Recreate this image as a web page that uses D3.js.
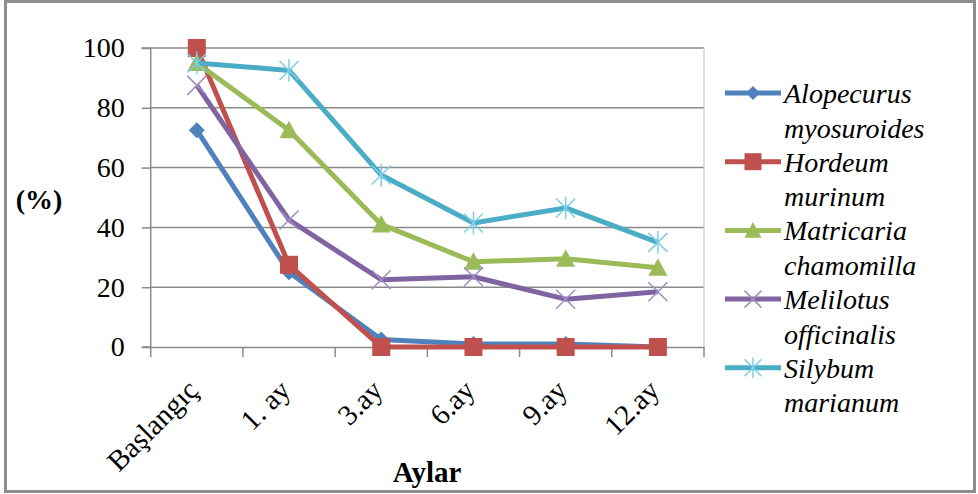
<!DOCTYPE html>
<html>
<head>
<meta charset="utf-8">
<script src="https://cdn.jsdelivr.net/npm/d3@7"></script>
<style>
  html, body { margin: 0; padding: 0; background: #fff; }
  svg { display: block; }
</style>
</head>
<body>
<svg id="chart" width="978" height="494"></svg>
<script>
// Sampling times (months after start)
const categories = ["Başlangıç", "1. ay", "3.ay", "6.ay", "9.ay", "12.ay"];

// Percentages per species
const alopecurus = [72.5, 25, 2.5, 1, 1, 0];
const hordeum    = [100, 27.5, 0, 0, 0, 0];
const matricaria = [95, 72.5, 41, 28.5, 29.5, 26.5];
const melilotus  = [87.5, 42.5, 22.5, 23.5, 16, 18.5];
const silybum    = [95, 92.5, 57.5, 41.5, 46.5, 35];

const yTicks = [0, 20, 40, 60, 80, 100];

const seriesNames = [
  ["Alopecurus", "myosuroides"],
  ["Hordeum", "murinum"],
  ["Matricaria", "chamomilla"],
  ["Melilotus", "officinalis"],
  ["Silybum", "marianum"]
];
const seriesValues = [alopecurus, hordeum, matricaria, melilotus, silybum];
const lineColors   = ["#4f81bd", "#c0504d", "#9bbb59", "#8064a2", "#4bacc6"];
const markerColors = ["#4f81bd", "#c0504d", "#9bbb59", "#a08cc4", "#7ccfe4"];
const markerTypes  = ["diamond", "square", "triangle", "cross", "star"];

const SERIF = '"Liberation Serif", "Times New Roman", serif';

const svg = d3.select("#chart");

// Outer frame
svg.append("rect")
  .attr("x", 5.5).attr("y", 1.5).attr("width", 969).attr("height", 490)
  .attr("fill", "none").attr("stroke", "#8c8c8c").attr("stroke-width", 3);

const plot = { left: 150.7, right: 704, top: 48, bottom: 347 };

const x = d3.scaleBand().domain(categories).range([plot.left, plot.right]);
const y = d3.scaleLinear().domain([0, 100]).range([plot.bottom, plot.top]);

// Horizontal gridlines
svg.append("g").selectAll("line").data(yTicks.filter(d => d > 0)).join("line")
  .attr("x1", plot.left).attr("x2", plot.right)
  .attr("y1", d => y(d)).attr("y2", d => y(d))
  .attr("stroke", "#8a8a8a").attr("stroke-width", 1.5);

// Right edge of plot area
svg.append("line")
  .attr("x1", plot.right).attr("x2", plot.right)
  .attr("y1", plot.top).attr("y2", plot.bottom)
  .attr("stroke", "#c8c8c8").attr("stroke-width", 1.2);

// Y axis
const yAxis = d3.axisLeft(y).tickValues(yTicks).tickSize(9).tickPadding(17).tickFormat(d3.format("d"));
const gy = svg.append("g").attr("transform", `translate(${plot.left},0)`).call(yAxis);
gy.select(".domain").attr("stroke", "#8a8a8a").attr("stroke-width", 1.5).attr("d", `M-9,${plot.top}H0V${plot.bottom}H-9`);
gy.selectAll(".tick line").attr("stroke", "#8a8a8a").attr("stroke-width", 1.5);
gy.selectAll(".tick text")
  .style("font-family", SERIF).style("font-size", "28px").attr("fill", "#000");

// X axis
const xAxis = d3.axisBottom(x).tickSize(0).tickPadding(0);
const gx = svg.append("g").attr("transform", `translate(0,${plot.bottom})`).call(xAxis);
gx.select(".domain").attr("stroke", "#8a8a8a").attr("stroke-width", 1.5);
// Tick marks at category boundaries
const bounds = categories.map(c => x(c)).concat([plot.right]);
gx.selectAll(".bound").data(bounds).join("line").attr("class", "bound")
  .attr("x1", d => d).attr("x2", d => d).attr("y1", 0).attr("y2", 10)
  .attr("stroke", "#8a8a8a").attr("stroke-width", 1.5);
gx.selectAll(".tick text")
  .style("font-family", SERIF).style("font-size", "29px").attr("fill", "#000")
  .attr("text-anchor", "end").attr("dy", 0)
  .attr("transform", "translate(3,45) rotate(-45)");

// Axis titles
svg.append("text").text("(%)")
  .attr("x", 39).attr("y", 209).attr("text-anchor", "middle")
  .style("font-family", SERIF).style("font-size", "28px").style("font-weight", "bold");
svg.append("text").text("Aylar")
  .attr("x", 427).attr("y", 482).attr("text-anchor", "middle")
  .style("font-family", SERIF).style("font-size", "29px").style("font-weight", "bold");

// Marker drawing
function drawMarker(g, type, color, size) {
  const s = size / 2;
  if (type === "diamond") {
    g.append("path").attr("d", `M0,${-s}L${s},0L0,${s}L${-s},0Z`).attr("fill", color);
  } else if (type === "square") {
    g.append("rect").attr("x", -s).attr("y", -s).attr("width", size).attr("height", size)
      .attr("fill", color);
  } else if (type === "triangle") {
    g.append("path").attr("d", `M0,${-s}L${s},${s * 0.85}L${-s},${s * 0.85}Z`).attr("fill", color);
  } else if (type === "cross") {
    g.append("path").attr("d", `M${-s},${-s}L${s},${s}M${-s},${s}L${s},${-s}`)
      .attr("stroke", color).attr("stroke-width", 1.5).attr("fill", "none");
  } else if (type === "star") {
    g.append("path").attr("d", `M${-s},${-s}L${s},${s}M${-s},${s}L${s},${-s}M0,${-s * 1.2}V${s * 1.2}`)
      .attr("stroke", color).attr("stroke-width", 1.5).attr("fill", "none");
  }
}

const line = d3.line()
  .x((d, i) => x(categories[i]) + x.bandwidth() / 2)
  .y(d => y(d));

seriesValues.forEach((vals, k) => {
  const g = svg.append("g");
  g.append("path").datum(vals).attr("d", line)
    .attr("fill", "none").attr("stroke", lineColors[k]).attr("stroke-width", 5)
    .attr("stroke-linejoin", "round");
  vals.forEach((v, i) => {
    const m = g.append("g")
      .attr("transform", `translate(${x(categories[i]) + x.bandwidth() / 2},${y(v)})`);
    const sz = markerTypes[k] === "square" ? 18 : markerTypes[k] === "diamond" ? 16 : 19;
    drawMarker(m, markerTypes[k], markerColors[k], sz);
  });
});

// Legend
const legend = svg.append("g");
seriesNames.forEach((names, k) => {
  const base = 103 + k * 68.7;
  const row = legend.append("g");
  row.append("line").attr("x1", 725).attr("x2", 781).attr("y1", base - 10).attr("y2", base - 10)
    .attr("stroke", lineColors[k]).attr("stroke-width", 5);
  const m = row.append("g").attr("transform", `translate(753,${base - 10})`);
  const sz = markerTypes[k] === "square" ? 17 : markerTypes[k] === "diamond" ? 14 : 17;
  drawMarker(m, markerTypes[k], markerColors[k], sz);
  names.forEach((n, j) => {
    row.append("text").text(n)
      .attr("x", 784).attr("y", base + j * 34.5)
      .style("font-family", SERIF).style("font-size", "28px").style("font-style", "italic")
      .attr("fill", "#000");
  });
});
</script>
</body>
</html>
